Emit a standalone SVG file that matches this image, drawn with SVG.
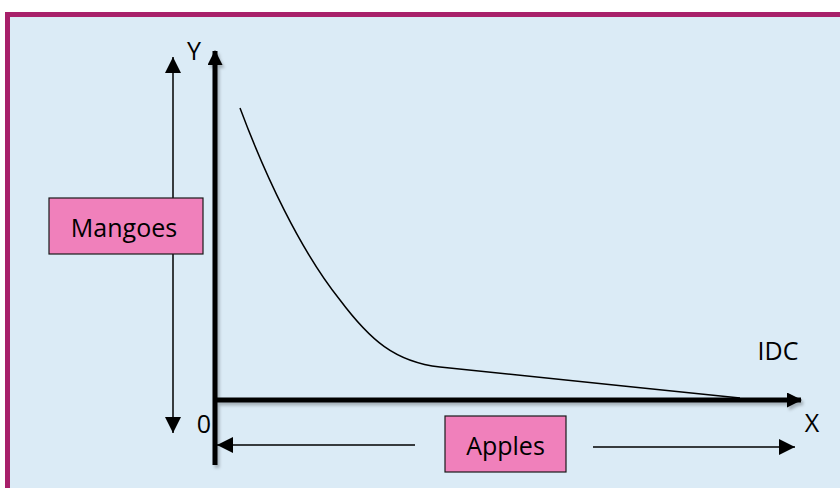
<svg xmlns="http://www.w3.org/2000/svg" width="840" height="488" viewBox="0 0 840 488">
<defs>
<style>
.lbl{font-family:"Open Sans","Liberation Sans",sans-serif;font-size:25px;fill:#000}
.sm{font-size:21px}
.box{fill:#f080bb;stroke:#1a1a1a;stroke-width:1.2}
.axis{stroke:#000;stroke-width:5;fill:none}
.thin{stroke:#000;stroke-width:1.5;fill:none}
</style>
<filter id="sh" x="-5%" y="-5%" width="110%" height="110%"><feDropShadow dx="2" dy="3" stdDeviation="1.5" flood-color="#000" flood-opacity="0.25"/></filter>
<marker id="ah" viewBox="0 0 16 16" refX="16" refY="8" markerWidth="16" markerHeight="16" markerUnits="userSpaceOnUse" orient="auto"><path d="M0,0 L16,8 L0,16 Z" fill="#000"/></marker>
<marker id="ahb" viewBox="0 0 15 15" refX="14" refY="7.5" markerWidth="15" markerHeight="15" markerUnits="userSpaceOnUse" orient="auto"><path d="M0,0 L15,7.5 L0,15 Z" fill="#000"/></marker>
</defs>
<rect x="0" y="0" width="840" height="488" fill="#ffffff"/>
<rect x="7.5" y="14.5" width="840" height="480" fill="#dbebf6" stroke="#a8206a" stroke-width="5"/>
<g id="connectors">
<g filter="url(#sh)">
<line class="axis" x1="215" y1="465" x2="215" y2="51" marker-end="url(#ahb)"/>
<line class="axis" x1="213" y1="400" x2="801" y2="400" marker-end="url(#ahb)"/>
</g>
<line class="thin" x1="173" y1="198" x2="173" y2="57" marker-end="url(#ah)"/>
<line class="thin" x1="173" y1="254" x2="173" y2="433" marker-end="url(#ah)"/>
<line class="thin" x1="415" y1="445" x2="217" y2="445" marker-end="url(#ah)"/>
<line class="thin" x1="593" y1="447" x2="795" y2="447" marker-end="url(#ah)"/>
<path class="thin" d="M240,108 C265,175 300,250 340,300 C370,340 395,362 440,367 C520,375 640,388 740,398"/>
</g>
<g id="mangoes"><rect class="box" x="49" y="198" width="154" height="56"/><text class="lbl" x="124" y="237" text-anchor="middle">Mangoes</text></g>
<g id="apples"><rect class="box" x="445" y="416" width="121" height="56"/><text class="lbl" x="505.5" y="455" text-anchor="middle">Apples</text></g>
<g id="labels">
<text class="lbl" x="194" y="60" text-anchor="middle">Y</text>
<text class="lbl" x="204" y="433" text-anchor="middle">0</text>
<text class="lbl" x="812" y="432" text-anchor="middle">X</text>
<text class="lbl" x="778" y="360" text-anchor="middle">IDC</text>
</g>
</svg>
